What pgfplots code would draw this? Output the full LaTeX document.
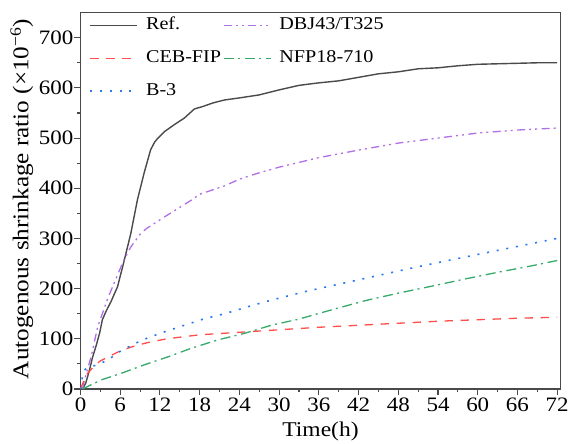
\documentclass[border=0pt]{standalone}
\usepackage{fontspec}
\setmainfont{Liberation Serif}[FakeStretch=1.12]
\usepackage{pgfplots}
\pgfplotsset{compat=1.18}

\definecolor{refgray}{HTML}{4A4A4A}
\definecolor{cebred}{HTML}{FF4D4D}
\definecolor{bblue}{HTML}{2A78EE}
\definecolor{dbjpurple}{HTML}{B06FE6}
\definecolor{nfpgreen}{HTML}{35AA6A}

\pgfplotstableread{
t v
0 0
0.3 0
0.8 12
1.3 35
1.8 62
2.4 88
2.9 112
3.3 138
3.9 156
4.6 174
5.6 204
6.6 256
7.6 310
8.6 377
9.6 430
10.6 477
11.2 492
11.7 500
12.7 513
14.2 527
15.7 540
17.2 558
18.5 563
20 570
21.8 576
24 580
27 586
30 596
33 605
36 610
39 614
42 621
45 628
48 632
51 638
54 640
57 644
60 647
63 648
66 649
69 650
72 650
}\refdata

\pgfplotstableread{
t v
0.3 0
0.6 18
1.6 64
2.6 124
4.1 180
5.9 237
6.6 258
7.6 283
9.1 310
10 320
12.7 343
16.7 376
18 388
21.8 405
24 418
26.8 430
30 442
36 461
42 476
48 490
54 500
60 510
66 516
72 520
}\dbjdata

\pgfplotstableread{
t v
0 0
0.3 10
1 30
2 45
3 56
4.5 66
6 76
8 85
10 92
13 100
18 108
24 113
30 118
36 123
42 127
48 131
54 135
60 138
66 141
72 143
}\cebdata

\pgfplotstableread{
t v
0.3 0
3.1 18
6.1 31
9.6 48
13.2 64
16.7 81
20.8 98
24.8 111
28.8 127
32.9 139
38 158
43 176
48 191
53.1 205
58 219
63.2 233
68 245
72 256
}\nfpdata

\pgfplotstableread{
t v
0 0
0.3 25
0.6 38
1.2 43
2.5 48
3.7 55
4.8 64
6.1 76
8.1 90
10.2 102
12.7 114
15.7 127
18.7 140
21.8 150
25.3 164
28.8 177
33.9 194
42.5 219
51.1 244
58.1 263
65.2 282
72 300
}\bdata

\begin{document}
\begin{tikzpicture}
\path[use as bounding box] (0,0) rectangle (568pt,444pt);
\begin{axis}[
  at={(80.5pt,55pt)}, anchor=south west,
  scale only axis, width=480pt, height=376.4pt,
  xmin=0, xmax=72.5, ymin=0, ymax=750,
  xtick={0,6,...,72}, ytick={0,100,...,700},
  minor x tick num=1, minor y tick num=1,
  xtick pos=left, ytick pos=left,
  tick align=outside,
  major tick length=6pt, minor tick length=3.5pt,
  axis line style={refgray, line width=1.1pt},
  every tick/.style={refgray, line width=1.1pt},
  /pgf/number format/assume math mode=true,
  ticklabel style={font=\fontsize{20.5}{24}\selectfont, inner sep=1pt},
  xticklabel style={yshift=-2pt},
  label style={font=\fontsize{21}{24}\selectfont},
  xlabel={Time(h)},
  ylabel={Autogenous shrinkage ratio (×10\textsuperscript{−6})},
  xlabel style={at={(axis description cs:0.5,-0.114)}, anchor=center},
  ylabel style={at={(axis description cs:-0.122,0.505)}, anchor=center,
    font=\fontsize{22.5}{24}\selectfont},
  legend columns=2,
  legend cell align=left,
  legend image code/.code={\draw[#1] (0pt,0pt) -- (47pt,0pt);},
  legend style={draw=none, fill=none, at={(axis description cs:0.012,1.0)},
    yshift=3pt, anchor=north west, font=\fontsize{18}{20}\selectfont, row sep=6pt,
    nodes={text height=15.5pt, text depth=7.5pt},
    /tikz/every odd column/.append style={column sep=6pt}},
]
\addplot[refgray, line width=1.4pt] table[x=t,y=v] {\refdata};
\addlegendentry{Ref.}
\addplot[dbjpurple, line width=1.3pt, dash pattern=on 8pt off 4pt on 2pt off 4pt on 2pt off 4.5pt] table[x=t,y=v] {\dbjdata};
\addlegendentry{DBJ43/T325}
\addplot[cebred, line width=1.3pt, dash pattern=on 8.3pt off 7.7pt] table[x=t,y=v] {\cebdata};
\addlegendentry{CEB-FIP}
\addplot[nfpgreen, line width=1.3pt, dash pattern=on 10pt off 4.3pt on 2pt off 4.7pt] table[x=t,y=v] {\nfpdata};
\addlegendentry{NFP18-710}
\addplot[bblue, line width=1.6pt, dash pattern=on 2pt off 7.8pt] table[x=t,y=v] {\bdata};
\addlegendentry{B-3}
\end{axis}
\end{tikzpicture}
\end{document}
